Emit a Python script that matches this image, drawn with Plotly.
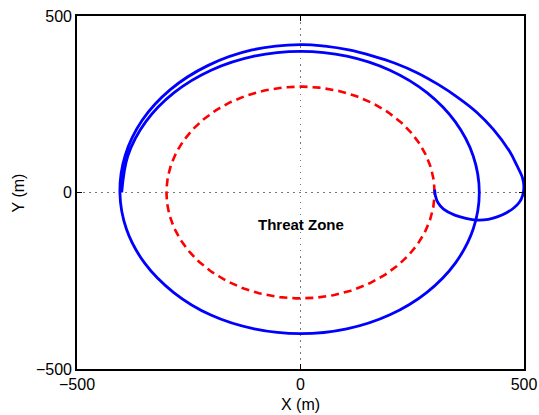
import numpy as np
import plotly.graph_objects as go

# Threat zone boundary radius (m)
threat_radius = 300

# Escape loop from the threat boundary (m)
loop_x = [300, 302, 308, 320, 345, 370, 395, 420, 440, 460, 477, 490, 497]
loop_y = [8, -10, -30, -47, -64, -73, -78, -76, -69, -58, -44, -27, -8]

# Outer swing and settling orbit, as polar waypoints about the zone centre
swing_deg = [2, 5, 9, 14, 22.5, 30, 37.5, 45, 52.5, 60, 67.5, 75, 82.5, 90,
             105, 120, 135, 150, 165, 180, 195, 210, 225, 240, 255, 270,
             285, 300, 315, 330, 345, 360, 375, 390, 405, 420, 435, 450,
             465, 480, 495, 510, 525, 540]
swing_r = [500, 498, 490, 482, 467, 455, 443, 434, 428, 423, 419, 418, 418, 419,
           418, 415, 412, 409, 406, 404, 403, 402, 401, 401, 400, 400,
           400, 400, 400, 400, 400, 400, 400, 400, 400, 400, 400, 400,
           400, 400, 400, 400, 400, 400]

x_ticks = [-500, 0, 500]
y_ticks = [-500, 0, 500]

ang = np.radians(swing_deg)
path_x = list(loop_x) + list(np.array(swing_r) * np.cos(ang))
path_y = list(loop_y) + list(np.array(swing_r) * np.sin(ang))

theta = np.linspace(0, 2 * np.pi, 361)
zone_x = threat_radius * np.cos(theta)
zone_y = threat_radius * np.sin(theta)

fig = go.Figure()
fig.add_trace(go.Scatter(
    x=zone_x, y=zone_y, mode="lines",
    line=dict(color="#ff0000", width=2.6, dash="8px,5px"),
    showlegend=False, hoverinfo="skip"))
fig.add_trace(go.Scatter(
    x=path_x, y=path_y, mode="lines",
    line=dict(color="#0000ff", width=2.8, shape="spline", smoothing=1.0,
              simplify=False),
    showlegend=False))

font = "Liberation Sans, Arial, Helvetica, sans-serif"
axis_common = dict(
    showline=True, mirror="ticks", linecolor="#000", linewidth=1.6,
    ticks="inside", ticklen=5, tickcolor="#000", tickwidth=1,
    showgrid=True, gridcolor="#777", griddash="1.5px,4.5px", gridwidth=1,
    zeroline=False, automargin=False,
    tickfont=dict(family=font, size=16, color="#000"),
)
fig.update_xaxes(range=[-500, 500], tickvals=x_ticks, **axis_common)
fig.update_yaxes(range=[-500, 500], tickvals=y_ticks, **axis_common)

fig.add_annotation(x=0, y=-90, text="<b>Threat Zone</b>", showarrow=False,
                   font=dict(family=font, size=15, color="#000"))
fig.add_annotation(xref="paper", yref="paper", x=0.5, y=-0.1, yanchor="middle",
                   text="X (m)", showarrow=False,
                   font=dict(family=font, size=16, color="#000"))
fig.add_annotation(xref="paper", yref="paper", x=-0.13, y=0.5, xanchor="center",
                   text="Y (m)", textangle=-90, showarrow=False,
                   font=dict(family=font, size=16, color="#000"))

fig.update_layout(
    width=539, height=415,
    margin=dict(l=77, r=15, t=16, b=46),
    paper_bgcolor="#fff", plot_bgcolor="#fff",
)

fig.write_html("out.html")
